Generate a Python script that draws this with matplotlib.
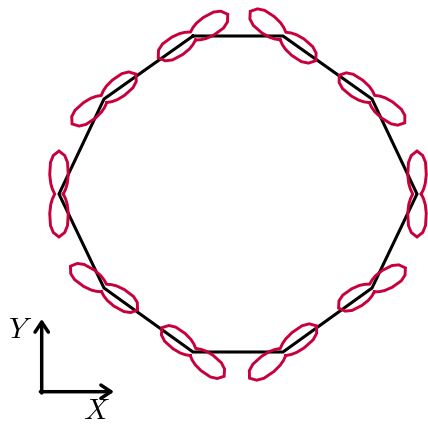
import numpy as np
import matplotlib
matplotlib.use('Agg')
import matplotlib.pyplot as plt

plt.rcParams['mathtext.fontset'] = 'cm'

# ring sites (centre of ring at 0,0), going clockwise from top-left
site_x = [-45, 45, 134, 179, 134, 45, -45, -134, -179, -134]
site_y = [158, 158, 95, 0, -94, -158, -158, -94, 0, 95]

# orientation of each two-lobe pattern (deg), its half length and width factor
lobe_angle = [32, -37, -36, 90, 31, 38, -38, -33, 90, 38]
lobe_len = [41, 41, 40.5, 43, 39, 42.5, 39.5, 40, 43, 40.5]
lobe_width = [1.05, 1.05, 1.0, 0.95, 1.0, 1.0, 1.0, 1.0, 0.95, 1.0]

# one half of a lobe: polar radius vs angle from the lobe axis
profile_phi = [0, 9, 16, 27, 40, 55, 90]
profile_r = [42.5, 38.5, 32.5, 21.5, 13.5, 8.5, 4.5]

RING_COLOR = 'black'
LOBE_COLOR = '#c8003c'

fig = plt.figure(figsize=(4.28, 4.24), dpi=100)
ax = fig.add_axes([0, 0, 1, 1])
ax.set_xlim(-238, 190)
ax.set_ylim(-230, 194)
ax.set_aspect('equal')
ax.axis('off')

# ring
ax.plot(site_x + site_x[:1], site_y + site_y[:1], color=RING_COLOR, lw=2.2,
        solid_joinstyle='miter', zorder=1)

# lobe outline in lobe frame (phi from -90 to 270)
ph = np.array(profile_phi, dtype=float)
rr = np.array(profile_r, dtype=float)
half_phi = np.concatenate([-ph[::-1], ph[1:-1]])
half_r = np.concatenate([rr[::-1], rr[1:-1]])
full_phi = np.concatenate([half_phi, half_phi + 180, half_phi[:1]])
full_r = np.concatenate([half_r, half_r, half_r[:1]])

for x0, y0, ang, ln, wd in zip(site_x, site_y, lobe_angle, lobe_len, lobe_width):
    along = full_r * np.cos(np.radians(full_phi)) * ln / profile_r[0]
    perp = full_r * np.sin(np.radians(full_phi)) * wd
    a = np.radians(ang)
    px = x0 + along * np.cos(a) - perp * np.sin(a)
    py = y0 + along * np.sin(a) + perp * np.cos(a)
    ax.plot(px, py, color=LOBE_COLOR, lw=2.1, solid_joinstyle='miter', zorder=2)

# axis key
ox, oy = -196.3, -197.7
arrow = dict(arrowstyle='->,head_length=0.45,head_width=0.3', lw=2.5, color='k',
             shrinkA=0, shrinkB=0, mutation_scale=16)
ax.annotate('', xy=(ox, -125), xytext=(ox, oy - 1.3), arrowprops=arrow)
ax.annotate('', xy=(-124, oy), xytext=(ox - 1.3, oy), arrowprops=arrow)
ax.text(-218, -136, r'$Y$', fontsize=21, ha='center', va='center')
ax.text(-141.5, -217, r'$X$', fontsize=21, ha='center', va='center')

fig.savefig('out.png', dpi=100)
